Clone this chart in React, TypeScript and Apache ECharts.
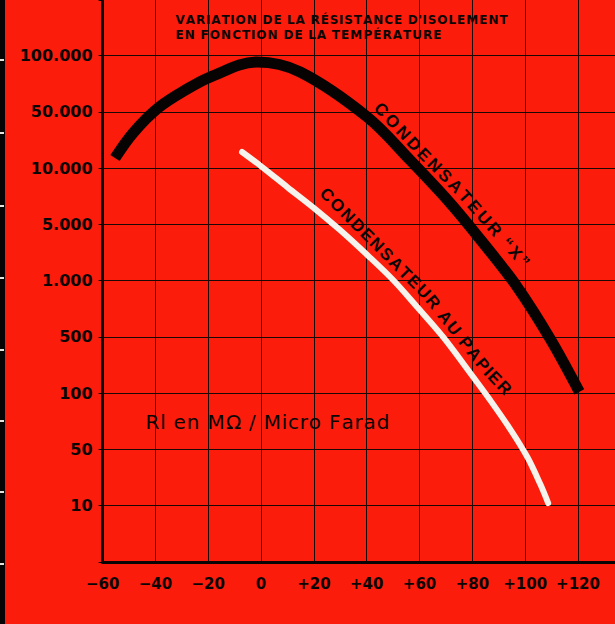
import React, { useEffect, useRef } from "react";
import * as echarts from "echarts";

// ---- data ----
const xTickValues = [-60, -40, -20, 0, 20, 40, 60, 80, 100, 120];
const yTickLabels = ["10", "50", "100", "500", "1.000", "5.000", "10.000", "50.000", "100.000"];
const yTickValues = [10, 50, 100, 500, 1000, 5000, 10000, 50000, 100000];

// Condensateur "X" : temperature (°C) / Ri (MΩ·µF)
const condXTemp = [-55.3, -48.5, -39.0, -28.0, -19.3, -1.5, 14.8, 40.2, 56.4, 71.6, 84.1, 97.0, 109.5, 120.5];
const condXRes = [13380, 27340, 52480, 66300, 76900, 92500, 81800, 43300, 12630, 6510, 2940, 925, 472, 104];

// Condensateur au papier
const papierTemp = [-7.2, 0.4, 9.9, 20.5, 29.9, 40.2, 50.0, 59.1, 68.9, 80.3, 86.7, 94.3, 100.8, 105.7, 108.7];
const papierRes = [15900, 10340, 7930, 6045, 4260, 2090, 1020, 723, 500, 159, 92, 64.3, 40.3, 18.6, 10.8];

const titleLines = ["VARIATION DE LA RÉSISTANCE D'ISOLEMENT", "EN FONCTION DE LA TEMPÉRATURE"];
const unitLabel = "Rl en MΩ / Micro Farad";
const condXLabel = "CONDENSATEUR “X”";
const papierLabel = "CONDENSATEUR AU PAPIER";

// ---- helpers ----
const RED = "#fb1c0c";
const INK = "#0c0505";

function resToIndex(v: number): number {
  const n = yTickValues.length;
  for (let i = 0; i < n - 1; i++) {
    const a = yTickValues[i];
    const b = yTickValues[i + 1];
    if (v <= b || i === n - 2) {
      return i + 1 + Math.log(v / a) / Math.log(b / a);
    }
  }
  return n;
}

function xFmt(v: number): string {
  if (!xTickValues.includes(v)) return "";
  if (v > 0) return "+" + v;
  if (v < 0) return "\u2212" + -v;
  return "0";
}

function yFmt(v: number): string {
  const i = Math.round(v);
  if (Math.abs(v - i) < 1e-6 && i >= 1 && i <= yTickLabels.length) return yTickLabels[i - 1];
  return "";
}

let measureCtx: CanvasRenderingContext2D | null = null;
function measure(text: string, family: string, size: number, weight: string): number {
  if (!measureCtx) measureCtx = document.createElement("canvas").getContext("2d");
  measureCtx!.font = `${weight} ${size}px '${family}'`;
  return measureCtx!.measureText(text).width;
}

// Lay a label along a polyline, letter by letter (letter-spaced to fill the path)
function textAlong(text: string, pts: number[][], family: string, size: number, weight: string): any[] {
  const chars = Array.from(text);
  const widths = chars.map((c) => measure(c, family, size, weight));
  const total = widths.reduce((a, b) => a + b, 0);
  const segs: any[] = [];
  let L = 0;
  for (let i = 0; i < pts.length - 1; i++) {
    const dx = pts[i + 1][0] - pts[i][0];
    const dy = pts[i + 1][1] - pts[i][1];
    const l = Math.hypot(dx, dy);
    segs.push({ x0: pts[i][0], y0: pts[i][1], dx, dy, l, start: L });
    L += l;
  }
  const pointAt = (s: number) => {
    const ss = Math.max(0, Math.min(L, s));
    let seg = segs[segs.length - 1];
    for (const sg of segs) {
      if (ss <= sg.start + sg.l) {
        seg = sg;
        break;
      }
    }
    const t = seg.l ? (ss - seg.start) / seg.l : 0;
    return [seg.x0 + seg.dx * t, seg.y0 + seg.dy * t];
  };
  const k = L / total;
  let acc = 0;
  return chars.map((c, i) => {
    const s = k * (acc + widths[i] / 2);
    acc += widths[i];
    const p = pointAt(s);
    const p1 = pointAt(s - 8);
    const p2 = pointAt(s + 8);
    const ang = Math.atan2(p2[1] - p1[1], p2[0] - p1[0]);
    return {
      type: "text",
      x: p[0],
      y: p[1],
      rotation: -ang,
      silent: true,
      z: 10,
      style: {
        text: c,
        fill: INK,
        fontFamily: family,
        fontSize: size,
        fontWeight: weight,
        align: "center",
        verticalAlign: "middle",
      },
    };
  });
}

export default function App() {
  const ref = useRef<HTMLDivElement>(null);

  useEffect(() => {
    if (!ref.current) return;
    const chart = echarts.init(ref.current, null, { renderer: "svg" });

    const edgeTicks = [60, 133, 206, 278, 350, 421, 492, 564];
    const graphics: any[] = [
      { type: "rect", silent: true, z: 5, shape: { x: 0, y: 0, width: 5, height: 624 }, style: { fill: "#060404" } },
      ...edgeTicks.map((t) => ({
        type: "rect",
        silent: true,
        z: 6,
        shape: { x: 0, y: t - 1, width: 4, height: 2 },
        style: { fill: "#e6e2dc" },
      })),
      ...textAlong(titleLines[0], [[175, 20], [508, 20]], "DejaVu Sans", 12, "bold"),
      ...textAlong(titleLines[1], [[175, 34.5], [442, 34.5]], "DejaVu Sans", 12, "bold"),
      ...textAlong(unitLabel, [[145, 422], [390, 422]], "DejaVu Sans", 20, "normal"),
      ...textAlong(
        condXLabel,
        [[376, 104], [421, 152], [461, 192], [494, 229], [527, 266]],
        "Liberation Sans",
        17,
        "bold"
      ),
      ...textAlong(
        papierLabel,
        [[322, 190], [378, 246], [428, 296], [485, 368], [509, 393]],
        "Liberation Sans",
        17,
        "bold"
      ),
    ];

    const gridLine = { color: "#1a0806", width: 1 };

    chart.setOption({
      animation: false,
      backgroundColor: RED,
      grid: { left: 102.6, right: 0, top: 0, bottom: 62, containLabel: false, outerBoundsMode: "none" },
      xAxis: {
        type: "value",
        min: -60,
        max: 134,
        interval: 20,
        axisLine: { show: true, onZero: false, lineStyle: { color: INK, width: 3 } },
        axisTick: { show: false },
        splitLine: { show: true, showMinLine: false, showMaxLine: false, lineStyle: gridLine },
        axisLabel: {
          formatter: xFmt,
          color: INK,
          fontFamily: "DejaVu Sans",
          fontWeight: "bold",
          fontSize: 15,
          margin: 14,
          hideOverlap: false,
        },
      },
      yAxis: {
        type: "value",
        min: 0,
        max: 9.99,
        interval: 1,
        axisLine: { show: true, onZero: false, lineStyle: { color: INK, width: 3 } },
        axisTick: { show: true, length: 4, lineStyle: { color: INK, width: 1 } },
        splitLine: { show: true, showMinLine: false, showMaxLine: false, lineStyle: gridLine },
        axisLabel: {
          formatter: yFmt,
          color: INK,
          fontFamily: "DejaVu Sans",
          fontWeight: "bold",
          fontSize: 16,
          margin: 10,
          hideOverlap: false,
        },
      },
      series: [
        {
          name: condXLabel,
          type: "line",
          data: condXTemp.map((t, i) => [t, resToIndex(condXRes[i])]),
          smooth: 0.35,
          symbol: "none",
          z: 3,
          lineStyle: { color: "#070303", width: 11, cap: "butt" },
        },
        {
          name: papierLabel,
          type: "line",
          data: papierTemp.map((t, i) => [t, resToIndex(papierRes[i])]),
          smooth: 0.35,
          symbol: "none",
          z: 3,
          lineStyle: { color: "#f6f2ec", width: 6, cap: "round" },
        },
      ],
      graphic: { elements: graphics },
    });

    return () => chart.dispose();
  }, []);

  return <div ref={ref} style={{ position: "fixed", left: 0, top: 0, width: 615, height: 624 }} />;
}
